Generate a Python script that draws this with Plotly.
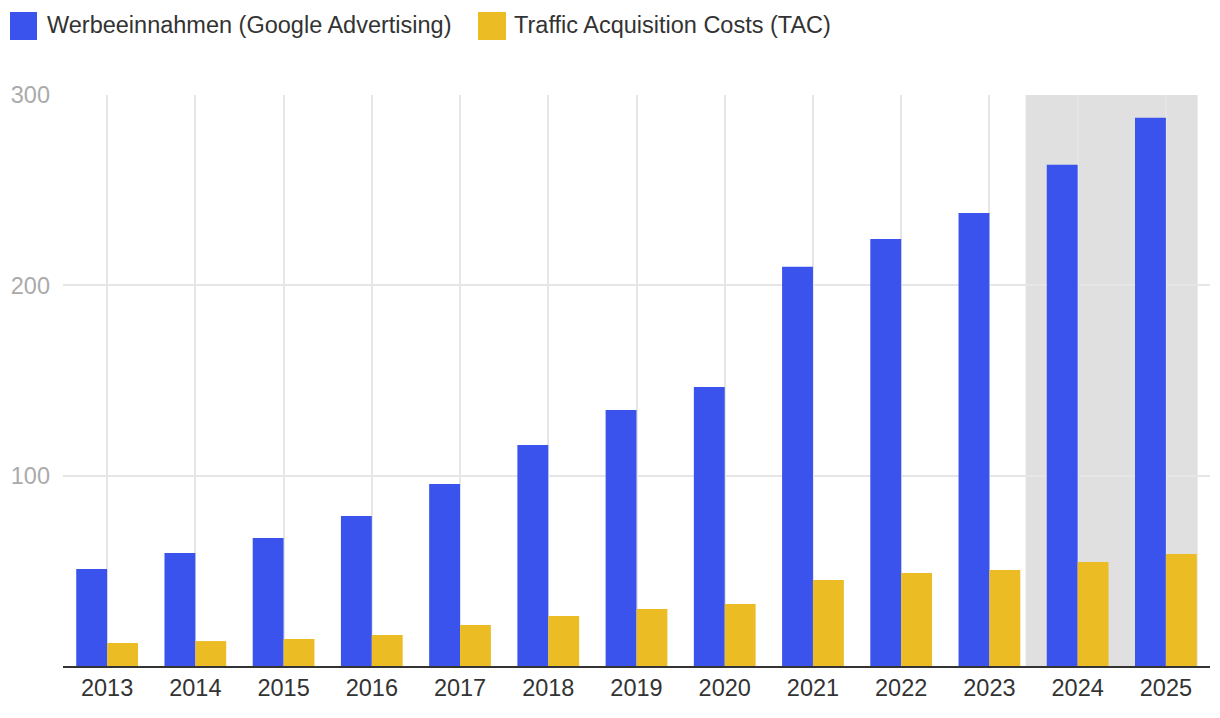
import plotly.graph_objects as go

years = ["2013", "2014", "2015", "2016", "2017", "2018", "2019",
         "2020", "2021", "2022", "2023", "2024", "2025"]
werbeeinnahmen = [51.0, 59.4, 67.3, 78.8, 95.6, 116.1, 134.5,
                  146.6, 209.7, 224.4, 238.0, 263.3, 288.0]
tac = [12.1, 13.1, 14.2, 16.3, 21.5, 26.3, 30.0,
       32.6, 45.2, 48.9, 50.4, 54.6, 58.9]
series_names = ["Werbeeinnahmen (Google Advertising)", "Traffic Acquisition Costs (TAC)"]
y_ticks = [100, 200, 300]

BLUE = "#3a53ec"
YELLOW = "#ebbc24"
FONT = "Liberation Sans, Arial, Helvetica, sans-serif"
FS = 23.5

# page body has an 8px default margin; target plot box is x 63..1210, y 95..666
OFF = 8
W, H = 1220 - OFF, 718 - OFF
ML, MR, MT, MB = 63 - OFF, 10, 95 - OFF, 52
PW, PH = W - ML - MR, H - MT - MB


def px_x(px):
    return (px - OFF - ML) / PW


def px_y(py):
    return (H - MB - (py - OFF)) / PH


fig = go.Figure()
fig.add_trace(go.Bar(x=years, y=werbeeinnahmen, name=series_names[0],
                     marker=dict(color=BLUE, line=dict(width=0)), showlegend=False))
fig.add_trace(go.Bar(x=years, y=tac, name=series_names[1],
                     marker=dict(color=YELLOW, line=dict(width=0)), showlegend=False))

# shaded forecast region (2024-2025)
fig.add_shape(type="rect", xref="x", yref="y", x0=10.41, x1=12.36, y0=0, y1=300,
              fillcolor="#e0e0e0", line=dict(width=0), layer="below")

# custom legend
for (sx0, sx1, tx, name, col) in [(10, 37, 45, series_names[0], BLUE),
                                  (478, 506, 512, series_names[1], YELLOW)]:
    fig.add_shape(type="rect", xref="paper", yref="paper",
                  x0=px_x(sx0), x1=px_x(sx1), y0=px_y(40), y1=px_y(12),
                  fillcolor=col, line=dict(width=0))
    fig.add_annotation(xref="paper", yref="paper", x=px_x(tx), y=px_y(25),
                       text=name, showarrow=False, xanchor="left", yanchor="middle",
                       font=dict(family=FONT, size=FS, color="#333333"))

fig.update_layout(
    width=W, height=H,
    margin=dict(l=ML, r=MR, t=MT, b=MB, autoexpand=False),
    paper_bgcolor="white", plot_bgcolor="white",
    barmode="group", bargap=0.3, bargroupgap=0,
    showlegend=False,
    font=dict(family=FONT, size=FS, color="#333333"),
)
fig.update_xaxes(type="category", showgrid=True, gridcolor="#e6e6e6", gridwidth=1.5,
                 showline=True, linecolor="#333333", linewidth=2, automargin=False,
                 ticks="", tickfont=dict(family=FONT, size=FS, color="#333333"),
                 range=[-0.5, 12.5])
fig.update_yaxes(range=[0, 300], tickvals=y_ticks, showgrid=True, gridcolor="#e6e6e6",
                 gridwidth=1.5, zeroline=False, showline=False, ticks="", automargin=False,
                 tickfont=dict(family=FONT, size=FS, color="#aaaaaa"),
                 ticklabelstandoff=12)

fig.write_html("out.html")
